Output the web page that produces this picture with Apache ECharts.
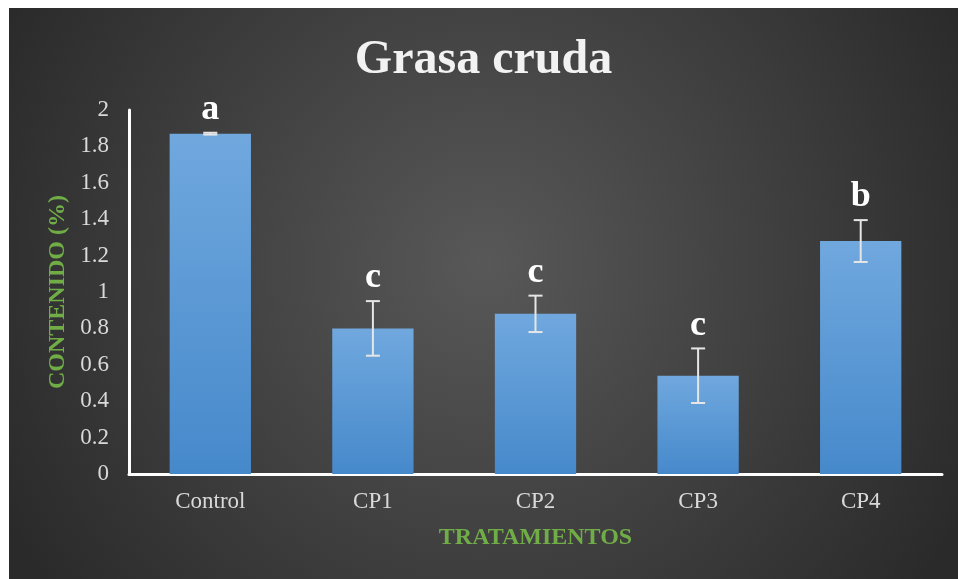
<!DOCTYPE html>
<html>
<head>
<meta charset="utf-8">
<script src="https://cdn.jsdelivr.net/npm/echarts@6/dist/echarts.min.js"></script>
<style>
  html, body { margin: 0; padding: 0; background: #ffffff; }
  #chart { position: absolute; left: 9px; top: 8px; width: 949px; height: 571px; }
</style>
</head>
<body>
<div id="chart"></div>
<script>
// tratamientos
var categories = ['Control', 'CP1', 'CP2', 'CP3', 'CP4'];
// contenido de grasa cruda (%)
var values = [1.87, 0.80, 0.88, 0.54, 1.28];
// desviación (barras de error)
var errors = [0.005, 0.15, 0.10, 0.15, 0.115];
// letras de significancia
var letters = ['a', 'c', 'c', 'c', 'b'];
// ticks del eje y
var yTicks = [0, 0.2, 0.4, 0.6, 0.8, 1, 1.2, 1.4, 1.6, 1.8, 2];

var serif = '"Liberation Serif", "Times New Roman", serif';
var chart = echarts.init(document.getElementById('chart'));

var errData = values.map(function (v, i) { return [i, v, errors[i]]; });

var option = {
  backgroundColor: {
    type: 'radial', x: 0.5, y: 0.45, r: 0.95,
    colorStops: [
      { offset: 0, color: '#585858' },
      { offset: 1, color: '#2a2a2a' }
    ]
  },
  title: {
    text: 'Grasa cruda',
    left: 'center',
    top: 24,
    textStyle: { fontFamily: serif, fontSize: 48, fontWeight: 'bold', color: '#f2f2f2' }
  },
  grid: { left: 120, right: 16, top: 102, bottom: 105 },
  xAxis: {
    type: 'category',
    data: categories,
    name: 'TRATAMIENTOS',
    nameLocation: 'middle',
    nameGap: 52,
    nameTextStyle: { fontFamily: serif, fontSize: 24, fontWeight: 'bold', color: '#70ad47' },
    axisLine: { lineStyle: { color: '#ffffff', width: 3 } },
    axisTick: { show: false },
    axisLabel: { fontFamily: serif, fontSize: 23, color: '#d9d9d9', margin: 16 }
  },
  yAxis: {
    type: 'value',
    min: yTicks[0],
    max: yTicks[yTicks.length - 1],
    interval: 0.2,
    name: 'CONTENIDO (%)',
    nameLocation: 'middle',
    nameGap: 59,
    nameTextStyle: { fontFamily: serif, fontSize: 24, fontWeight: 'bold', color: '#70ad47' },
    axisLine: { show: true, lineStyle: { color: '#ffffff', width: 3 } },
    axisTick: { show: false },
    splitLine: { show: false },
    axisLabel: { fontFamily: serif, fontSize: 23, color: '#d9d9d9', margin: 20 }
  },
  series: [
    {
      type: 'bar',
      data: values,
      barWidth: '50%',
      itemStyle: {
        color: {
          type: 'linear', x: 0, y: 0, x2: 0, y2: 1,
          colorStops: [
            { offset: 0, color: '#70a8de' },
            { offset: 1, color: '#4689cb' }
          ]
        },
        shadowBlur: 6,
        shadowOffsetX: 2,
        shadowColor: 'rgba(0,0,0,0.5)'
      }
    },
    {
      type: 'custom',
      data: errData,
      z: 5,
      renderItem: function (params, api) {
        var i = api.value(0), v = api.value(1), e = api.value(2);
        var top = api.coord([i, v + e]);
        var bot = api.coord([i, v - e]);
        var cap = 7;
        var st = { stroke: '#e6e6e6', lineWidth: 2 };
        return {
          type: 'group',
          children: [
            { type: 'line', shape: { x1: top[0], y1: top[1], x2: bot[0], y2: bot[1] }, style: st },
            { type: 'line', shape: { x1: top[0] - cap, y1: top[1], x2: top[0] + cap, y2: top[1] }, style: st },
            { type: 'line', shape: { x1: bot[0] - cap, y1: bot[1], x2: bot[0] + cap, y2: bot[1] }, style: st },
            {
              type: 'text',
              style: {
                x: top[0], y: top[1] - 5,
                text: letters[params.dataIndex],
                fill: '#ffffff',
                font: 'bold 36px ' + serif,
                textAlign: 'center',
                textVerticalAlign: 'bottom'
              }
            }
          ]
        };
      }
    }
  ]
};

chart.setOption(option);
</script>
</body>
</html>
